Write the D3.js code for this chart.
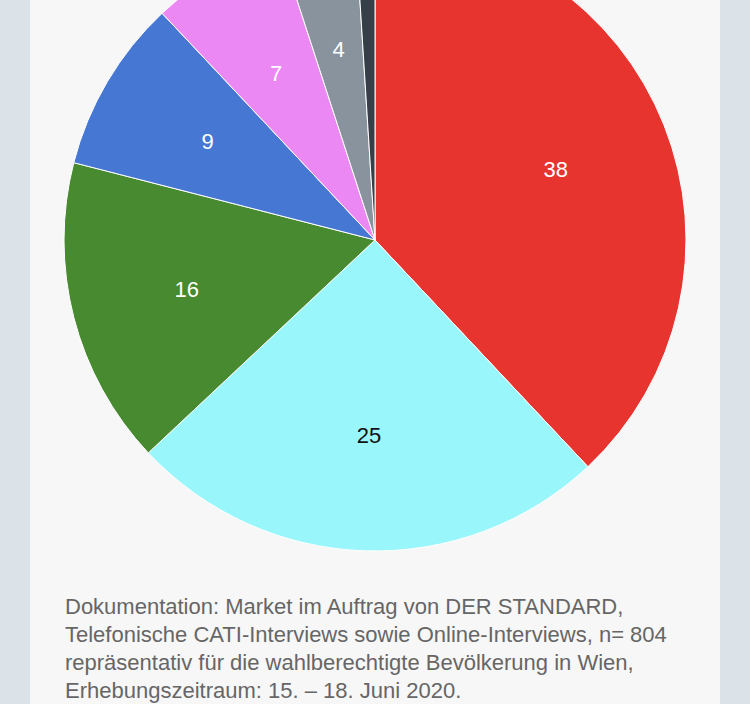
<!DOCTYPE html>
<html>
<head>
<meta charset="utf-8">
<script src="https://cdn.jsdelivr.net/npm/d3@7"></script>
<style>
html, body { margin: 0; padding: 0; background: #dbe3e9; }
svg { display: block; }
</style>
</head>
<body>
<svg id="chart" width="750" height="704"></svg>
<script>
const categories = ["A", "B", "C", "D", "E", "F", "G"];
const values = [38, 25, 16, 9, 7, 4, 1];
const colors = ["#e8342f", "#99f6fb", "#478a2f", "#4677d3", "#ec88f4", "#89939d", "#353f47"];
const labelColors = ["#ffffff", "#111111", "#ffffff", "#ffffff", "#ffffff", "#ffffff", "#ffffff"];
const footnote = [
  "Dokumentation: Market im Auftrag von DER STANDARD,",
  "Telefonische CATI-Interviews sowie Online-Interviews, n= 804",
  "repräsentativ für die wahlberechtigte Bevölkerung in Wien,",
  "Erhebungszeitraum: 15. – 18. Juni 2020."
];

const svg = d3.select("#chart");
svg.append("rect").attr("x", 30).attr("y", 0).attr("width", 690).attr("height", 704).attr("fill", "#f7f7f7");

const cx = 375, cy = 240, R = 311;
const data = categories.map((c, i) => ({ cat: c, value: values[i], i }));
const pie = d3.pie().value(d => d.value).sort(null);
const arc = d3.arc().innerRadius(0).outerRadius(R);
const labelArc = d3.arc().innerRadius(R * 0.625).outerRadius(R * 0.625);

const g = svg.append("g").attr("transform", `translate(${cx},${cy})`);
const arcs = pie(data);
g.selectAll("path").data(arcs).join("path")
  .attr("d", arc)
  .attr("fill", d => colors[d.data.i])
  .attr("stroke", "#ffffff")
  .attr("stroke-width", 1);

g.selectAll("text").data(arcs.filter(d => d.data.value >= 4)).join("text")
  .attr("transform", d => `translate(${labelArc.centroid(d)})`)
  .attr("text-anchor", "middle")
  .attr("dy", "0.38em")
  .attr("font-family", "Liberation Sans, Arial, Helvetica, sans-serif")
  .attr("font-size", 22)
  .attr("fill", d => labelColors[d.data.i])
  .text(d => d.data.value);

svg.append("g").selectAll("text").data(footnote).join("text")
  .attr("x", 65)
  .attr("y", (d, i) => 614 + i * 28)
  .attr("font-family", "Liberation Sans, Arial, Helvetica, sans-serif")
  .attr("font-size", 22)
  .attr("fill", "#666666")
  .text(d => d);
</script>
</body>
</html>
